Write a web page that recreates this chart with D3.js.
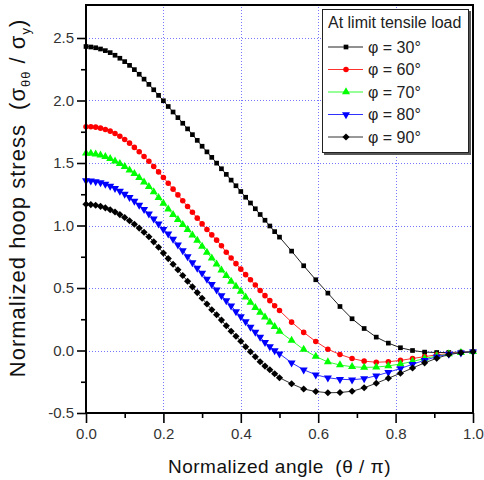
<!DOCTYPE html>
<html>
<head>
<meta charset="utf-8">
<script src="https://cdn.jsdelivr.net/npm/d3@7"></script>
<style>
  body { margin: 0; background: #fff; }
  svg text { font-family: "Liberation Sans", Arial, sans-serif; white-space: pre; }
</style>
</head>
<body>
<script>
// sample positions along the normalized angle
const xs = [0, 0.0125, 0.025, 0.0375, 0.05, 0.0625, 0.075, 0.0875, 0.1, 0.1125,
  0.125, 0.1375, 0.15, 0.1625, 0.175, 0.1875, 0.2, 0.2125, 0.225, 0.2375,
  0.25, 0.2625, 0.275, 0.2875, 0.3, 0.3125, 0.325, 0.3375, 0.35, 0.3625,
  0.375, 0.3875, 0.4, 0.4125, 0.425, 0.4375, 0.45, 0.4625, 0.475, 0.4875, 0.5,
  0.53125, 0.5625, 0.59375, 0.625, 0.65625, 0.6875, 0.71875, 0.75, 0.78125,
  0.8125, 0.84375, 0.875, 0.90625, 0.9375, 0.96875, 1.0]

const phi30 = [2.432, 2.428, 2.422, 2.412, 2.399, 2.383, 2.362, 2.338, 2.311, 2.281,
  2.247, 2.210, 2.171, 2.129, 2.086, 2.041, 1.998, 1.952, 1.908, 1.863,
  1.818, 1.773, 1.727, 1.681, 1.634, 1.589, 1.545, 1.499, 1.454, 1.409,
  1.363, 1.318, 1.272, 1.226, 1.180, 1.134, 1.088, 1.042, 0.996, 0.951, 0.907,
  0.795, 0.678, 0.566, 0.459, 0.352, 0.254, 0.176, 0.107, 0.059,
  0.022, 0.000, -0.013, -0.016, -0.016, -0.013, -0.008]

const phi60 = [1.790, 1.790, 1.787, 1.779, 1.768, 1.755, 1.736, 1.714, 1.688, 1.659,
  1.625, 1.590, 1.552, 1.514, 1.472, 1.429, 1.384, 1.338, 1.291, 1.245,
  1.198, 1.152, 1.106, 1.059, 1.013, 0.968, 0.925, 0.883, 0.838, 0.786,
  0.740, 0.695, 0.651, 0.607, 0.566, 0.524, 0.480, 0.439, 0.399, 0.358, 0.320,
  0.227, 0.145, 0.072, 0.010, -0.032, -0.064, -0.085, -0.094, -0.090,
  -0.079, -0.064, -0.049, -0.035, -0.024, -0.016, -0.008]

const phi70 = [1.579, 1.577, 1.571, 1.562, 1.550, 1.534, 1.515, 1.494, 1.470, 1.443,
  1.414, 1.382, 1.347, 1.310, 1.268, 1.222, 1.176, 1.130, 1.086, 1.046,
  1.006, 0.966, 0.923, 0.880, 0.832, 0.784, 0.738, 0.690, 0.642, 0.598,
  0.552, 0.512, 0.472, 0.427, 0.384, 0.342, 0.304, 0.266, 0.226, 0.190, 0.152,
  0.080, 0.008, -0.048, -0.092, -0.116, -0.130, -0.135, -0.133, -0.123,
  -0.108, -0.088, -0.064, -0.044, -0.028, -0.018, -0.010]

const phi80 = [1.360, 1.358, 1.352, 1.343, 1.331, 1.316, 1.298, 1.276, 1.252, 1.226,
  1.196, 1.164, 1.130, 1.094, 1.054, 1.014, 0.970, 0.934, 0.891, 0.846,
  0.800, 0.752, 0.704, 0.659, 0.619, 0.571, 0.530, 0.486, 0.440, 0.400,
  0.358, 0.312, 0.272, 0.232, 0.187, 0.147, 0.107, 0.066, 0.032, 0.000, -0.026,
  -0.098, -0.154, -0.194, -0.218, -0.230, -0.234, -0.225, -0.202, -0.174,
  -0.144, -0.110, -0.078, -0.050, -0.029, -0.018, -0.010]

const phi90 = [1.170, 1.167, 1.162, 1.153, 1.141, 1.126, 1.108, 1.087, 1.064, 1.038,
  1.010, 0.979, 0.946, 0.910, 0.869, 0.826, 0.779, 0.735, 0.690, 0.646,
  0.600, 0.554, 0.509, 0.463, 0.418, 0.372, 0.326, 0.286, 0.243, 0.198,
  0.154, 0.114, 0.074, 0.030, -0.010, -0.050, -0.090, -0.125, -0.154, -0.186, -0.218,
  -0.266, -0.308, -0.328, -0.338, -0.336, -0.326, -0.298, -0.262, -0.222,
  -0.182, -0.140, -0.099, -0.062, -0.032, -0.018, -0.010]

const seriesLabels = ["30", "60", "70", "80", "90"]
const seriesValues = [phi30, phi60, phi70, phi80, phi90]
const seriesColors = ["#000000", "#ff0000", "#00ff00", "#0000ff", "#000000"]
const lineColors = ["#222222", "#ff3030", "#30ff30", "#3030ff", "#333333"]

const xTicks = [0, 0.2, 0.4, 0.6, 0.8, 1.0]
const xMinor = [0.1, 0.3, 0.5, 0.7, 0.9]
const yTicks = [-0.5, 0, 0.5, 1.0, 1.5, 2.0, 2.5]
const yMinor = [-0.25, 0.25, 0.75, 1.25, 1.75, 2.25]

const width = 484, height = 480
const margin = { top: 5, right: 11, bottom: 67, left: 86 }

const svg = d3.select("body").append("svg")
    .attr("width", width)
    .attr("height", height)

const x = d3.scaleLinear().domain([0, 1]).range([margin.left, width - margin.right])
const y = d3.scaleLinear().domain([-0.5, 2.764]).range([height - margin.bottom, margin.top])

// dotted grid
const grid = svg.append("g")
    .attr("stroke", "#7878ff")
    .attr("stroke-width", 1)
    .attr("stroke-dasharray", "1,2")
grid.selectAll(".gx").data(xTicks.slice(1, -1)).join("line")
    .attr("x1", d => Math.round(x(d)) + 0.5).attr("x2", d => Math.round(x(d)) + 0.5)
    .attr("y1", y.range()[0]).attr("y2", y.range()[1])
grid.selectAll(".gy").data(yTicks.slice(1)).join("line")
    .attr("y1", d => Math.round(y(d)) + 0.5).attr("y2", d => Math.round(y(d)) + 0.5)
    .attr("x1", x.range()[0]).attr("x2", x.range()[1])

// axes
const fmt = d => d.toFixed(1)
const styleAxis = g => {
  g.select(".domain").remove()
  g.selectAll("line").attr("stroke", "#000").attr("stroke-width", 1.6)
  g.selectAll("text").attr("fill", "#333").style("font-size", "15px")
}

svg.append("g")
    .attr("transform", `translate(0,${y.range()[0]})`)
    .call(d3.axisBottom(x).tickValues(xTicks).tickSize(10).tickPadding(5).tickFormat(fmt))
    .call(styleAxis)
svg.append("g")
    .attr("transform", `translate(0,${y.range()[0]})`)
    .call(d3.axisBottom(x).tickValues(xMinor).tickSize(5).tickFormat(""))
    .call(styleAxis)
svg.append("g")
    .attr("transform", `translate(${x.range()[0]},0)`)
    .call(d3.axisLeft(y).tickValues(yTicks).tickSize(9).tickPadding(3).tickFormat(fmt))
    .call(styleAxis)
svg.append("g")
    .attr("transform", `translate(${x.range()[0]},0)`)
    .call(d3.axisLeft(y).tickValues(yMinor).tickSize(5).tickFormat(""))
    .call(styleAxis)

// marker shapes
const square = d3.symbol().type(d3.symbolSquare).size(22)
const circle = d3.symbol().type(d3.symbolCircle).size(24)
const tri = d3.symbol().type(d3.symbolTriangle).size(28)
const diamond = d3.symbol().type(d3.symbolSquare).size(26)
const markers = [
  { path: square(), rot: 0 },
  { path: circle(), rot: 0 },
  { path: tri(), rot: 0 },
  { path: tri(), rot: 180 },
  { path: diamond(), rot: 45 }
]

const line = d3.line()
    .x((d, i) => x(xs[i]))
    .y(d => y(d))

seriesValues.forEach((vals, s) => {
  const g = svg.append("g")
  g.append("path")
      .datum(vals)
      .attr("d", line)
      .attr("fill", "none")
      .attr("stroke", lineColors[s])
      .attr("stroke-width", 1)
  g.selectAll("path.m").data(vals).join("path")
      .attr("class", "m")
      .attr("d", markers[s].path)
      .attr("fill", seriesColors[s])
      .attr("transform", (d, i) => `translate(${x(xs[i])},${y(d)}) rotate(${markers[s].rot})`)
})

// frame
svg.append("rect")
    .attr("x", x.range()[0])
    .attr("y", y.range()[1])
    .attr("width", x.range()[1] - x.range()[0])
    .attr("height", y.range()[0] - y.range()[1])
    .attr("fill", "none")
    .attr("stroke", "#000")
    .attr("stroke-width", 2)

// legend
const lg = svg.append("g").attr("transform", "translate(322,9)")
lg.append("rect")
    .attr("x", 2).attr("y", 2).attr("width", 147).attr("height", 144)
    .attr("fill", "#555")
lg.append("rect")
    .attr("x", 0.5).attr("y", 0.5).attr("width", 146).attr("height", 143)
    .attr("fill", "#fff").attr("stroke", "#222").attr("stroke-width", 1)
lg.append("text")
    .attr("x", 6).attr("y", 19)
    .style("font-size", "16px")
    .attr("fill", "#222")
    .text("At limit tensile load")

seriesLabels.forEach((lab, s) => {
  const cy = 38 + s * 22.5
  lg.append("line")
      .attr("x1", 6).attr("x2", 41)
      .attr("y1", cy).attr("y2", cy)
      .attr("stroke", lineColors[s]).attr("stroke-width", 1)
  lg.append("path")
      .attr("d", markers[s].path)
      .attr("fill", seriesColors[s])
      .attr("transform", `translate(24,${cy}) rotate(${markers[s].rot})`)
  lg.append("text")
      .attr("x", 46).attr("y", cy + 5.5)
      .style("font-size", "16px")
      .attr("fill", "#222")
      .text(`\u03c6 = ${lab}\u00b0`)
})

// axis titles
svg.append("text")
    .attr("x", (x.range()[0] + x.range()[1]) / 2)
    .attr("y", 473)
    .attr("text-anchor", "middle")
    .style("font-size", "19px")
    .style("letter-spacing", "0.5px")
    .attr("fill", "#111")
    .text("Normalized angle  (\u03b8 / \u03c0)")

const yt = svg.append("text")
    .attr("transform", "translate(25,198) rotate(-90)")
    .attr("text-anchor", "middle")
    .style("font-size", "22px")
    .style("letter-spacing", "1px")
    .attr("fill", "#111")
yt.append("tspan").text("Normalized hoop stress  (\u03c3")
yt.append("tspan").attr("dy", 5).style("font-size", "13px").text("\u03b8\u03b8")
yt.append("tspan").attr("dy", -5).text(" / \u03c3")
yt.append("tspan").attr("dy", 5).style("font-size", "13px").text("y")
yt.append("tspan").attr("dy", -5).text(")")
</script>
</body>
</html>
